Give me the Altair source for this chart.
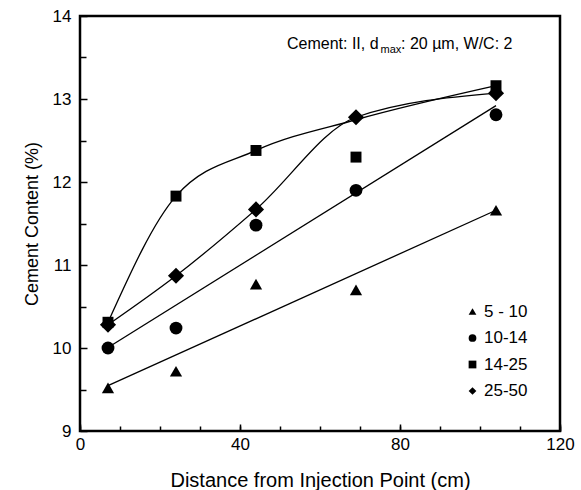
import altair as alt
import pandas as pd

FONT = "Liberation Sans"

# ---- data ----
series_names = ["5 - 10", "10-14", "14-25", "25-50"]
x_cm = [7, 24, 44, 69, 104]
y_5_10 = [9.52, 9.72, 10.77, 10.70, 11.66]
y_10_14 = [10.00, 10.24, 11.48, 11.90, 12.81]
y_14_25 = [10.31, 11.83, 12.38, 12.30, 13.16]
y_25_50 = [10.28, 10.87, 11.67, 12.78, 13.07]

# smooth curves drawn through the 14-25 and 25-50 groups (nodes)
curve_x = [7, 24, 44, 69, 104]
curve_14_25 = [10.31, 11.83, 12.38, 12.75, 13.16]
curve_25_50 = [10.28, 10.87, 11.67, 12.78, 13.07]

x_major = [0, 40, 80, 120]
x_minor = [0, 10, 20, 30, 40, 50, 60, 70, 80, 90, 100, 110, 120]
y_major = [9, 10, 11, 12, 13, 14]
y_minor = [9.5, 10.5, 11.5, 12.5, 13.5]

annot_parts = ["Cement: II, d", "max", ": 20 \u00b5m, W/C: 2"]

# ---- tables ----
rows = []
for name, ys in zip(series_names, [y_5_10, y_10_14, y_14_25, y_25_50]):
    for xv, yv in zip(x_cm, ys):
        rows.append({"series": name, "x": xv, "y": yv})
pts = pd.DataFrame(rows)

crow = []
for name, ys in zip(["14-25", "25-50"], [curve_14_25, curve_25_50]):
    for xv, yv in zip(curve_x, ys):
        crow.append({"series": name, "x": xv, "y": yv})
curves = pd.DataFrame(crow)

xs = alt.Scale(domain=[0, 120], nice=False, zero=False)
ys_ = alt.Scale(domain=[9, 14], nice=False, zero=False)

axis_common = dict(domain=False, grid=False, tickColor="black", tickWidth=1.5,
                   labelColor="black", labelFont=FONT, titleFont=FONT,
                   titleColor="black", titleFontWeight="normal",
                   labelFlush=False, labelOverlap=False)

x_axis_major = alt.Axis(values=x_major, tickSize=7, offset=-7, labelFontSize=17,
                        labelPadding=5, title="Distance from Injection Point (cm)",
                        titleFontSize=20, titlePadding=18, orient="bottom",
                        format="d", **axis_common)
y_axis_major = alt.Axis(values=y_major, tickSize=7, offset=-7, labelFontSize=17,
                        labelPadding=9, title="Cement Content (%)",
                        titleFontSize=18, titlePadding=11, orient="left",
                        format="d", **axis_common)
x_axis_minor = alt.Axis(values=x_minor, tickSize=5, offset=-5, labels=False,
                        title=None, orient="bottom", **axis_common)
y_axis_minor = alt.Axis(values=y_minor, tickSize=6, offset=-6, labels=False,
                        title=None, orient="left", **axis_common)

shapes = ["triangle-up", "circle", "square", "diamond"]
marker_sizes = [150, 165, 120, 260]
shape_scale = alt.Scale(domain=series_names, range=shapes)
legend = alt.Legend(title=None, orient="none", legendX=384, legendY=287,
                    labelFontSize=17, labelFont=FONT, labelColor="black",
                    symbolSize=60, symbolFillColor="black",
                    symbolStrokeColor="black", symbolStrokeWidth=0,
                    rowPadding=8.5, labelOffset=3)

point_layers = []
for i, (name, sz) in enumerate(zip(series_names, marker_sizes)):
    point_layers.append(
        alt.Chart(pts).transform_filter(alt.datum.series == name).mark_point(
            filled=True, color="black", opacity=1, size=sz
        ).encode(
            x=alt.X("x:Q", scale=xs, axis=x_axis_major if i == 0 else None),
            y=alt.Y("y:Q", scale=ys_, axis=y_axis_major if i == 0 else None),
            shape=alt.Shape("series:N", scale=shape_scale, sort=series_names,
                            legend=legend if i == 0 else None),
        )
    )

regress = alt.Chart(pts).transform_filter(
    alt.FieldOneOfPredicate(field="series", oneOf=["5 - 10", "10-14"])
).transform_regression("x", "y", groupby=["series"], extent=[7, 104]).mark_line(
    color="black", strokeWidth=1.3
).encode(
    x=alt.X("x:Q", scale=xs, axis=x_axis_minor),
    y=alt.Y("y:Q", scale=ys_, axis=y_axis_minor),
    detail="series:N",
)

curve_lines = alt.Chart(curves).mark_line(
    color="black", strokeWidth=1.3, interpolate="monotone"
).encode(
    x=alt.X("x:Q", scale=xs, axis=None),
    y=alt.Y("y:Q", scale=ys_, axis=None),
    detail="series:N",
)

annot_df = pd.DataFrame({"t1": [annot_parts[0]], "t2": [annot_parts[1]],
                         "t3": [annot_parts[2]]})
a1 = alt.Chart(annot_df).mark_text(align="left", baseline="alphabetic",
                                   font=FONT, fontSize=16, color="black").encode(
    x=alt.value(207), y=alt.value(33), text="t1:N")
a2 = alt.Chart(annot_df).mark_text(align="left", baseline="alphabetic",
                                   font=FONT, fontSize=11, color="black").encode(
    x=alt.value(300.5), y=alt.value(37), text="t2:N")
a3 = alt.Chart(annot_df).mark_text(align="left", baseline="alphabetic",
                                   font=FONT, fontSize=16, color="black").encode(
    x=alt.value(321), y=alt.value(33), text="t3:N")

chart = alt.layer(curve_lines, regress, *point_layers, a1, a2, a3).resolve_axis(
    x="independent", y="independent"
).properties(
    width=480, height=415, autosize="none",
    padding={"left": 80, "top": 16, "right": 21, "bottom": 59},
).configure(background="white").configure_view(stroke="black", strokeWidth=2.5)

chart.save("out.html", embed_options={"renderer": "svg", "actions": False})
